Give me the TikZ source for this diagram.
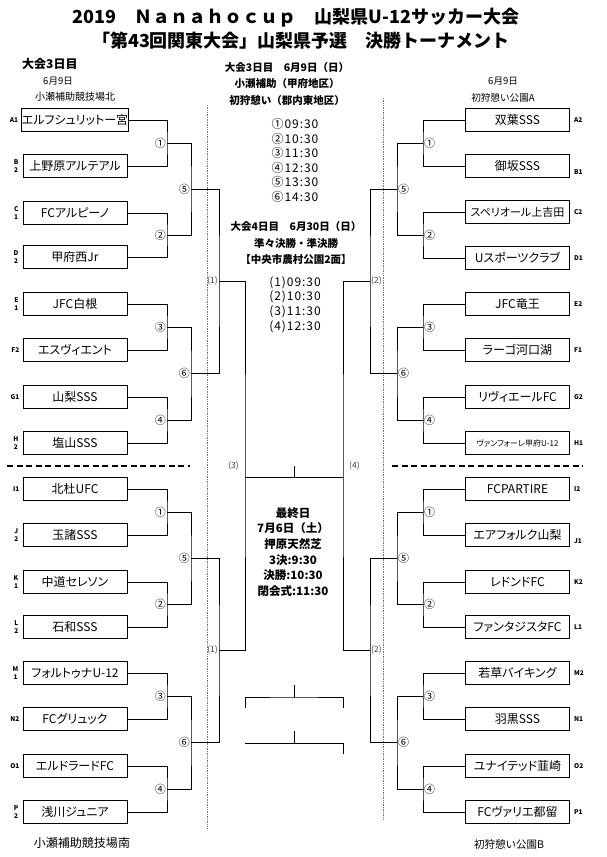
\documentclass[tikz,border=0pt]{standalone}
\usepackage{fontspec}
\setmainfont{Noto Sans CJK JP}
\newfontfamily\teamfont{Noto Sans CJK JP}[RawFeature=+palt]
\newfontfamily\timefont{Noto Sans CJK JP}[LetterSpace=8]
\usepackage{tikz}
\usetikzlibrary{positioning, calc}
\definecolor{dotgray}{gray}{0.45}
\definecolor{semigray}{gray}{0.25}

\begin{document}
\begin{tikzpicture}[
    x=1pt, y=-1pt,
    every node/.style={inner sep=0pt, align=center},
    team/.style ={draw, line width=0.9pt, minimum width=104pt, minimum height=23pt, font=\teamfont\fontsize{12}{13}\selectfont},
    seed/.style ={font=\fontsize{6.5}{7.5}\selectfont\bfseries},
    link/.style ={line width=0.8pt},
    rnd/.style  ={font=\fontsize{11}{11}\selectfont},
    semi/.style ={font=\fontsize{8.5}{9}\selectfont, text=semigray},
    head/.style ={font=\fontsize{10.5}{16.5}\selectfont\bfseries},
    times/.style={font=\timefont\fontsize{12}{14.6}\selectfont}
]
\useasboundingbox (0,0) rectangle (607,857);

% ========== TITLE ==========
\node[font=\fontsize{18}{20}\selectfont\bfseries] (title1) at (296,18) {2019　Ｎａｎａｈｏｃｕｐ　山梨県U-12サッカー大会};
\node[font=\fontsize{18}{20}\selectfont\bfseries] (title2) at (301,41) {「第43回関東大会」山梨県予選　決勝トーナメント};

% ========== VENUES ==========
\node[font=\fontsize{12}{13}\selectfont\bfseries, anchor=west] (lday) at (22,64) {大会3日目};
\node[font=\fontsize{9.5}{10}\selectfont] (ldate)   at (58,81)  {6月9日};
\node[font=\fontsize{10}{11}\selectfont]  (lvenue)  at (75,97)  {小瀬補助競技場北};
\node[font=\fontsize{12}{13}\selectfont]  (lvenue2) at (82,843) {小瀬補助競技場南};
\node[font=\fontsize{9.5}{10}\selectfont] (rdate)   at (503,81) {6月9日};
\node[font=\fontsize{9.6}{10}\selectfont] (rvenue)  at (503,98) {初狩憩い公園A};
\node[font=\fontsize{10.5}{11}\selectfont] (rvenue2) at (509,844) {初狩憩い公園B};

% ========== CENTRE: schedule ==========
\node[head]  (day3)   at (287,84)    {大会3日目　6月9日（日）\\小瀬補助（甲府地区）\\初狩憩い（郡内東地区）};
\node[times] (time3)  at (295,160.5) {①09:30\\②10:30\\③11:30\\④12:30\\⑤13:30\\⑥14:30};
\node[head]  (day4)   at (296,243)   {大会4日目　6月30日（日）\\準々決勝・準決勝\\【中央市農村公園2面】};
\node[times] (time4)  at (295,304.5) {(1)09:30\\(2)10:30\\(3)11:30\\(4)12:30};
\node[font=\fontsize{11.5}{15.6}\selectfont\bfseries] (lastday) at (293,552)
    {最終日\\7月6日（土）\\押原天然芝\\3決:9:30\\決勝:10:30\\閉会式:11:30};

% ========== SEPARATORS ==========
\draw[densely dotted, dotgray, line width=0.7pt] (207,105) -- (207,828);
\draw[densely dotted, dotgray, line width=0.7pt] (383,98) -- (383,820);
\draw[dash pattern=on 6pt off 3.5pt, line width=1.6pt] (7,466) -- (190,466);
\draw[dash pattern=on 6pt off 3.5pt, line width=1.6pt] (392,466) -- (583,466);

% ========== LEFT: teams ==========
\node[team] (a1) at (75,120) {エルフシュリットー宮};
\node[team] (b2) at (75,166) {上野原アルテアル};
\node[team] (c1) at (75,213) {FCアルピーノ};
\node[team] (d2) at (75,257) {甲府西Jr};
\node[team] (e1) at (75,304) {JFC白根};
\node[team] (f2) at (75,350) {エスヴィエント};
\node[team] (g1) at (75,397) {山梨SSS};
\node[team] (h2) at (75,443) {塩山SSS};
\node[team] (i1) at (75,489) {北杜UFC};
\node[team] (j2) at (75,535) {玉諸SSS};
\node[team] (k1) at (75,582) {中道セレソン};
\node[team] (l2) at (75,627) {石和SSS};
\node[team] (m1) at (75,673) {フォルトゥナU-12};
\node[team] (n2) at (75,719) {FCグリュック};
\node[team] (o1) at (75,766) {エルドラードFC};
\node[team] (p2) at (75,812) {浅川ジュニア};

\node[seed, left=3pt of a1] (sa1) {A1};
\node[seed, left=4pt of b2] (sb2) {B\\2};
\node[seed, left=4pt of c1] (sc1) {C\\1};
\node[seed, left=4pt of d2] (sd2) {D\\2};
\node[seed, left=4pt of e1] (se1) {E\\1};
\node[seed, left=3pt of f2] (sf2) {F2};
\node[seed, left=3pt of g1] (sg1) {G1};
\node[seed, left=4pt of h2] (sh2) {H\\2};
\node[seed, left=3pt of i1] (si1) {I1};
\node[seed, left=4pt of j2] (sj2) {J\\2};
\node[seed, left=4pt of k1] (sk1) {K\\1};
\node[seed, left=4pt of l2] (sl2) {L\\2};
\node[seed, left=4pt of m1] (sm1) {M\\1};
\node[seed, left=3pt of n2] (sn2) {N2};
\node[seed, left=3pt of o1] (so1) {O1};
\node[seed, left=4pt of p2] (sp2) {P\\2};

% ========== RIGHT: teams ==========
\node[team] (a2) at (517.5,120) {双葉SSS};
\node[team] (b1) at (517.5,166) {御坂SSS};
\node[team, font=\teamfont\fontsize{11}{12}\selectfont] (c2) at (517.5,212) {スペリオール上吉田};
\node[team] (d1) at (517.5,258) {Uスポーツクラブ};
\node[team] (e2) at (517.5,304) {JFC竜王};
\node[team] (f1) at (517.5,350) {ラーゴ河口湖};
\node[team] (g2) at (517.5,397) {リヴィエールFC};
\node[team, font=\teamfont\fontsize{8}{9}\selectfont] (h1) at (517.5,443) {ヴァンフォーレ甲府U-12};
\node[team] (i2) at (517.5,489) {FCPARTIRE};
\node[team] (j1) at (517.5,535) {エアフォルク山梨};
\node[team] (k2) at (517.5,582) {レドンドFC};
\node[team] (l1) at (517.5,627) {ファンタジスタFC};
\node[team] (m2) at (517.5,673) {若草バイキング};
\node[team] (n1) at (517.5,719) {羽黒SSS};
\node[team] (o2) at (517.5,766) {ユナイテッド韮崎};
\node[team] (p1) at (517.5,812) {FCヴァリエ都留};

\node[seed, right=4pt of a2] (sa2) {A2};
\node[seed, right=4pt of b1, yshift=-6pt] (sb1) {B1};
\node[seed, right=4pt of c2] (sc2) {C2};
\node[seed, right=4pt of d1] (sd1) {D1};
\node[seed, right=4pt of e2] (se2) {E2};
\node[seed, right=4pt of f1] (sf1) {F1};
\node[seed, right=4pt of g2] (sg2) {G2};
\node[seed, right=4pt of h1] (sh1) {H1};
\node[seed, right=4pt of i2] (si2) {I2};
\node[seed, right=4pt of j1, yshift=-6pt] (sj1) {J1};
\node[seed, right=4pt of k2] (sk2) {K2};
\node[seed, right=4pt of l1] (sl1) {L1};
\node[seed, right=4pt of m2] (sm2) {M2};
\node[seed, right=4pt of n1] (sn1) {N1};
\node[seed, right=4pt of o2] (so2) {O2};
\node[seed, right=4pt of p1] (sp1) {P1};

% ========== LEFT: bracket joints ==========
\coordinate (lq1) at (167,143);  \coordinate (lq2) at (167,235);
\coordinate (lq3) at (167,327);  \coordinate (lq4) at (167,420);
\coordinate (lq5) at (167,512);  \coordinate (lq6) at (167,604.5);
\coordinate (lq7) at (167,696);  \coordinate (lq8) at (167,789);
\coordinate (lh1) at (191,189);  \coordinate (lh2) at (191,373.5);
\coordinate (lh3) at (191,558);  \coordinate (lh4) at (191,742.5);
\coordinate (ls1) at (219,281);  \coordinate (ls2) at (219,650);
\coordinate (lf)  at (245,465.5);

% ========== RIGHT: bracket joints ==========
\coordinate (rq1) at (423,143);  \coordinate (rq2) at (423,235);
\coordinate (rq3) at (423,327);  \coordinate (rq4) at (423,420);
\coordinate (rq5) at (423,512);  \coordinate (rq6) at (423,604.5);
\coordinate (rq7) at (423,696);  \coordinate (rq8) at (423,789);
\coordinate (rh1) at (397,189);  \coordinate (rh2) at (397,373.5);
\coordinate (rh3) at (397,558);  \coordinate (rh4) at (397,742.5);
\coordinate (rs1) at (370,281);  \coordinate (rs2) at (370,650);
\coordinate (rf)  at (343,465.5);

% ========== LEFT: lines ==========
\draw[link] (a1.east) -| (lq1) |- (b2.east);
\draw[link] (c1.east) -| (lq2) |- (d2.east);
\draw[link] (e1.east) -| (lq3) |- (f2.east);
\draw[link] (g1.east) -| (lq4) |- (h2.east);
\draw[link] (i1.east) -| (lq5) |- (j2.east);
\draw[link] (k1.east) -| (lq6) |- (l2.east);
\draw[link] (m1.east) -| (lq7) |- (n2.east);
\draw[link] (o1.east) -| (lq8) |- (p2.east);
\draw[link] (lq1) -| (lh1) |- (lq2);
\draw[link] (lq3) -| (lh2) |- (lq4);
\draw[link] (lq5) -| (lh3) |- (lq6);
\draw[link] (lq7) -| (lh4) |- (lq8);
\draw[link] (lh1) -| (ls1) |- (lh2);
\draw[link] (lh3) -| (ls2) |- (lh4);
\draw[link] (ls1) -| (lf) |- (ls2);

% ========== RIGHT: lines ==========
\draw[link] (a2.west) -| (rq1) |- (b1.west);
\draw[link] (c2.west) -| (rq2) |- (d1.west);
\draw[link] (e2.west) -| (rq3) |- (f1.west);
\draw[link] (g2.west) -| (rq4) |- (h1.west);
\draw[link] (i2.west) -| (rq5) |- (j1.west);
\draw[link] (k2.west) -| (rq6) |- (l1.west);
\draw[link] (m2.west) -| (rq7) |- (n1.west);
\draw[link] (o2.west) -| (rq8) |- (p1.west);
\draw[link] (rq1) -| (rh1) |- (rq2);
\draw[link] (rq3) -| (rh2) |- (rq4);
\draw[link] (rq5) -| (rh3) |- (rq6);
\draw[link] (rq7) -| (rh4) |- (rq8);
\draw[link] (rh1) -| (rs1) |- (rh2);
\draw[link] (rh3) -| (rs2) |- (rh4);
\draw[link] (rs1) -| (rf) |- (rs2);

% ========== FINAL and 3rd place ==========
\coordinate (fl) at (245,477);  \coordinate (fr) at (343,477);
\coordinate (fup) at (294,466); \coordinate (fmid) at (294,477);
\draw[link] (fl) -- (fr);
\draw[link] (fup) -- (fmid);

\coordinate (tal) at (245,708); \coordinate (tar) at (343,708);
\coordinate (tau) at (294,685); \coordinate (tam) at (294,697);
\draw[link] (tal) |- (tam) -| (tar);
\draw[link] (tau) -- (tam);
\coordinate (tbl) at (245,743); \coordinate (tbr) at (343,754);
\coordinate (tbu) at (294,731); \coordinate (tbm) at (294,743);
\draw[link] (tbl) -- (tbm) -| (tbr);
\draw[link] (tbu) -- (tbm);

% ========== ROUND LABELS ==========
\node[rnd, anchor=east, xshift=-1pt] (lr1) at (lq1) {①};
\node[rnd, anchor=east, xshift=-1pt] (lr2) at (lq2) {②};
\node[rnd, anchor=east, xshift=-1pt] (lr3) at (lq3) {③};
\node[rnd, anchor=east, xshift=-1pt] (lr4) at (lq4) {④};
\node[rnd, anchor=east, xshift=-1pt] (lr5) at (lq5) {①};
\node[rnd, anchor=east, xshift=-1pt] (lr6) at (lq6) {②};
\node[rnd, anchor=east, xshift=-1pt] (lr7) at (lq7) {③};
\node[rnd, anchor=east, xshift=-1pt] (lr8) at (lq8) {④};
\node[rnd, anchor=east, xshift=-1pt] (lr9)  at (lh1) {⑤};
\node[rnd, anchor=east, xshift=-1pt] (lr10) at (lh2) {⑥};
\node[rnd, anchor=east, xshift=-1pt] (lr11) at (lh3) {⑤};
\node[rnd, anchor=east, xshift=-1pt] (lr12) at (lh4) {⑥};

\node[rnd, anchor=west, xshift=1pt] (rr1) at (rq1) {①};
\node[rnd, anchor=west, xshift=1pt] (rr2) at (rq2) {②};
\node[rnd, anchor=west, xshift=1pt] (rr3) at (rq3) {③};
\node[rnd, anchor=west, xshift=1pt] (rr4) at (rq4) {④};
\node[rnd, anchor=west, xshift=1pt] (rr5) at (rq5) {①};
\node[rnd, anchor=west, xshift=1pt] (rr6) at (rq6) {②};
\node[rnd, anchor=west, xshift=1pt] (rr7) at (rq7) {③};
\node[rnd, anchor=west, xshift=1pt] (rr8) at (rq8) {④};
\node[rnd, anchor=west, xshift=1pt] (rr9)  at (rh1) {⑤};
\node[rnd, anchor=west, xshift=1pt] (rr10) at (rh2) {⑥};
\node[rnd, anchor=west, xshift=1pt] (rr11) at (rh3) {⑤};
\node[rnd, anchor=west, xshift=1pt] (rr12) at (rh4) {⑥};

% semi-final / final labels
\node[semi, anchor=east, xshift=-1pt] (lsl1) at (ls1) {(1)};
\node[semi, anchor=east, xshift=-1pt] (lsl2) at (ls2) {(1)};
\node[semi, anchor=west, xshift=1pt]  (rsl1) at (rs1) {(2)};
\node[semi, anchor=west, xshift=1pt]  (rsl2) at (rs2) {(2)};
\node[semi, anchor=east, xshift=-6pt] (lfl)  at (lf)  {(3)};
\node[semi, anchor=west, xshift=6pt]  (rfl)  at (rf)  {(4)};

\end{tikzpicture}
\end{document}
